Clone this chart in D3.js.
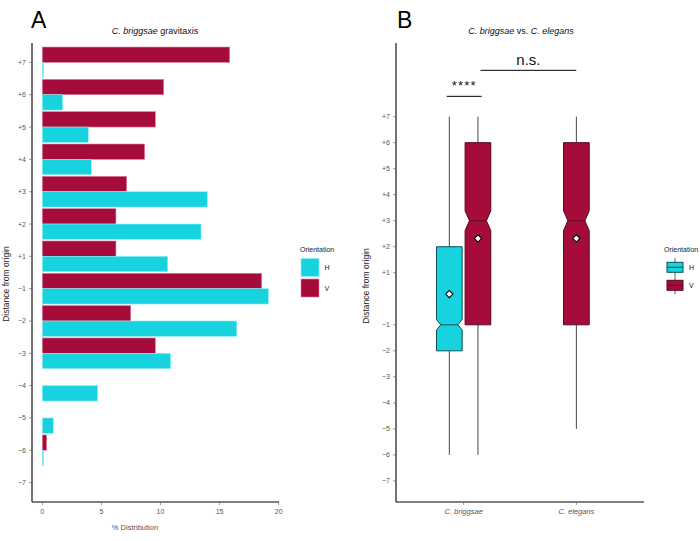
<!DOCTYPE html>
<html>
<head>
<meta charset="utf-8">
<script src="https://cdn.jsdelivr.net/npm/d3@7"></script>
<style>
  body { margin: 0; background: #fff; }
  svg { font-family: "Liberation Sans", Arial, sans-serif; }
</style>
</head>
<body>
<div id="chart"></div>
<script>
// Panel A data: % distribution by distance level
var levels = ["+7", "+6", "+5", "+4", "+3", "+2", "+1", "-1", "-2", "-3", "-4", "-5", "-6", "-7"];
var pctV = [15.85, 10.27, 9.56, 8.66, 7.14, 6.23, 6.23, 18.56, 7.48, 9.56, 0, 0, 0.37, 0];
var pctH = [0.1, 1.72, 3.89, 4.15, 13.96, 13.43, 10.61, 19.13, 16.45, 10.86, 4.68, 0.93, 0.1, 0];
var orientations = ["H", "V"];
var xTicksA = [0, 5, 10, 15, 20];

// Panel B data: box summaries
var species = ["C. briggsae", "C. elegans"];
var boxSpecies = ["C. briggsae", "C. briggsae", "C. elegans"];
var boxOrient = ["H", "V", "V"];
var boxDodge = [-1, 1, 0];
var whiskLow = [-6, -6, -5];
var q1 = [-2, -1, -1];
var medians = [-1, 3, 3];
var q3 = [2, 6, 6];
var whiskHigh = [7, 7, 7];
var notchLo = [-1.2, 2.62, 2.62];
var notchHi = [-0.8, 3.38, 3.38];
var means = [0.18, 2.32, 2.32];
var yTicksB = [-7, -6, -5, -4, -3, -2, -1, 1, 2, 3, 4, 5, 6, 7];
var sigLabels = ["****", "n.s."];
var sigFrom = [0.85, 1.15];
var sigTo = [1.16, 2.0];
var sigY = [7.78, 8.78];

var w = 700, h = 541;
var fill = { H: "#16d3df", V: "#a60c3a" };
var edge = { H: "#8ff0f4", V: "#e07d9b" };
var dark = { H: "#0e4e54", V: "#55091f" };
var tickCol = "#555";

var svg = d3.select("#chart").append("svg")
    .attr("width", w).attr("height", h);

function fmtSigned(v) { return v > 0 ? "+" + v : "\u2212" + Math.abs(v); }

// ---------- Panel A ----------
var ax = { left: 32, right: 279, top: 43, bottom: 502 };
var xA = d3.scaleLinear().domain([0, 20]).range([42.3, 278.7]);
var yA = d3.scalePoint().domain(levels).range([ax.top, ax.bottom]).padding(0.6);
var step = yA.step();
var barH = step * 0.475;

var gA = svg.append("g");

levels.forEach(function (lv, i) {
    var yc = yA(lv);
    [["V", pctV[i], yc - barH], ["H", pctH[i], yc]].forEach(function (b) {
        if (b[1] <= 0) return;
        gA.append("rect")
            .attr("x", xA(0))
            .attr("y", b[2])
            .attr("width", Math.max(0.8, xA(b[1]) - xA(0)))
            .attr("height", barH)
            .attr("fill", fill[b[0]])
            .attr("stroke", edge[b[0]])
            .attr("stroke-width", 0.6);
    });
});

// axes A
gA.append("line").attr("x1", ax.left).attr("x2", ax.left).attr("y1", ax.top).attr("y2", ax.bottom)
    .attr("stroke", "#000").attr("stroke-width", 1.1);
gA.append("line").attr("x1", ax.left).attr("x2", ax.right).attr("y1", ax.bottom).attr("y2", ax.bottom)
    .attr("stroke", "#000").attr("stroke-width", 1.1);

levels.forEach(function (lv) {
    gA.append("line").attr("x1", ax.left - 3).attr("x2", ax.left).attr("y1", yA(lv)).attr("y2", yA(lv))
        .attr("stroke", tickCol).attr("stroke-width", 0.6);
    gA.append("text").attr("x", ax.left - 6).attr("y", yA(lv) + 2.5)
        .attr("text-anchor", "end").attr("font-size", 7).attr("fill", tickCol)
        .text(lv.replace("-", "\u2212"));
});
xTicksA.forEach(function (t) {
    gA.append("line").attr("x1", xA(t)).attr("x2", xA(t)).attr("y1", ax.bottom).attr("y2", ax.bottom + 3)
        .attr("stroke", tickCol).attr("stroke-width", 0.6);
    gA.append("text").attr("x", xA(t)).attr("y", ax.bottom + 11.5)
        .attr("text-anchor", "middle").attr("font-size", 7).attr("fill", tickCol).text(t);
});

gA.append("text").attr("x", 135).attr("y", 530).attr("text-anchor", "middle")
    .attr("font-size", 7.5).attr("fill", tickCol).text("% Distribution");
gA.append("text").attr("transform", "translate(9,284) rotate(-90)").attr("text-anchor", "middle")
    .attr("font-size", 8.5).attr("fill", "#222").text("Distance from origin");

var tA = gA.append("text").attr("x", 155).attr("y", 34).attr("text-anchor", "middle")
    .attr("font-size", 9).attr("fill", "#111");
tA.append("tspan").attr("font-style", "italic").text("C. briggsae");
tA.append("tspan").text(" gravitaxis");

gA.append("text").attr("x", 31).attr("y", 28).attr("font-size", 23).attr("fill", "#000").text("A");

// legend A
var lgA = gA.append("g");
lgA.append("text").attr("x", 300).attr("y", 252).attr("font-size", 7).attr("fill", "#222").text("Orientation");
orientations.forEach(function (o, i) {
    var y0 = 258.5 + i * 20.5;
    lgA.append("rect").attr("x", 301).attr("y", y0).attr("width", 18).attr("height", 18)
        .attr("fill", fill[o]).attr("stroke", edge[o]).attr("stroke-width", 0.6);
    lgA.append("text").attr("x", 324.5).attr("y", y0 + 11.5).attr("font-size", 7).attr("fill", "#222").text(o);
});

// ---------- Panel B ----------
var bx = { left: 396, right: 644, top: 43, bottom: 502 };
var xB = d3.scaleLinear().domain([0.4, 2.6]).range([bx.left, bx.right]);
var yB = d3.scaleLinear().domain([-7.81, 9.83]).range([bx.bottom, bx.top]);
var dodge = 0.127, boxW = 0.228, notchW = 0.66;

var gB = svg.append("g");

boxSpecies.forEach(function (sp, i) {
    var cx = xB(species.indexOf(sp) + 1 + boxDodge[i] * dodge);
    var hw = (xB(boxW) - xB(0)) / 2;
    var nw = hw * notchW;
    var o = boxOrient[i];
    // whiskers
    gB.append("line").attr("x1", cx).attr("x2", cx).attr("y1", yB(q3[i])).attr("y2", yB(whiskHigh[i]))
        .attr("stroke", "#333").attr("stroke-width", 0.9);
    gB.append("line").attr("x1", cx).attr("x2", cx).attr("y1", yB(q1[i])).attr("y2", yB(whiskLow[i]))
        .attr("stroke", "#333").attr("stroke-width", 0.9);
    // notched box
    var pts = [
        [cx - hw, yB(q3[i])], [cx + hw, yB(q3[i])],
        [cx + hw, yB(notchHi[i])], [cx + nw, yB(medians[i])], [cx + hw, yB(notchLo[i])],
        [cx + hw, yB(q1[i])], [cx - hw, yB(q1[i])],
        [cx - hw, yB(notchLo[i])], [cx - nw, yB(medians[i])], [cx - hw, yB(notchHi[i])]
    ];
    gB.append("path").attr("d", d3.line()(pts) + "Z")
        .attr("fill", fill[o]).attr("stroke", dark[o]).attr("stroke-width", 1);
    gB.append("line").attr("x1", cx - nw).attr("x2", cx + nw).attr("y1", yB(medians[i])).attr("y2", yB(medians[i]))
        .attr("stroke", dark[o]).attr("stroke-width", 1);
    // mean marker
    gB.append("path").attr("d", d3.symbol(d3.symbolDiamond2, 34)())
        .attr("transform", "translate(" + cx + "," + yB(means[i]) + ")")
        .attr("fill", "#fff").attr("stroke", "#000").attr("stroke-width", 1.1);
});

// significance brackets
sigLabels.forEach(function (lab, i) {
    var x1 = xB(sigFrom[i]), x2 = xB(sigTo[i]), yy = yB(sigY[i]);
    gB.append("line").attr("x1", x1).attr("x2", x2).attr("y1", yy).attr("y2", yy)
        .attr("stroke", "#000").attr("stroke-width", 1);
    gB.append("text").attr("x", (x1 + x2) / 2).attr("y", yy - (i === 0 ? 6 : 5))
        .attr("text-anchor", "middle").attr("font-size", i === 0 ? 13 : 15)
        .attr("letter-spacing", i === 0 ? 1.2 : 0).attr("fill", "#111").text(lab);
});

// axes B
gB.append("line").attr("x1", bx.left).attr("x2", bx.left).attr("y1", bx.top).attr("y2", bx.bottom)
    .attr("stroke", "#000").attr("stroke-width", 1.1);
gB.append("line").attr("x1", bx.left).attr("x2", bx.right).attr("y1", bx.bottom).attr("y2", bx.bottom)
    .attr("stroke", "#000").attr("stroke-width", 1.1);

yTicksB.forEach(function (t) {
    gB.append("line").attr("x1", bx.left - 3).attr("x2", bx.left).attr("y1", yB(t)).attr("y2", yB(t))
        .attr("stroke", tickCol).attr("stroke-width", 0.6);
    gB.append("text").attr("x", bx.left - 6).attr("y", yB(t) + 2.5)
        .attr("text-anchor", "end").attr("font-size", 7).attr("fill", tickCol).text(fmtSigned(t));
});
species.forEach(function (sp, i) {
    var x = xB(i + 1);
    gB.append("line").attr("x1", x).attr("x2", x).attr("y1", bx.bottom).attr("y2", bx.bottom + 3)
        .attr("stroke", tickCol).attr("stroke-width", 0.6);
    gB.append("text").attr("x", x).attr("y", bx.bottom + 11.5).attr("text-anchor", "middle")
        .attr("font-size", 7.5).attr("font-style", "italic").attr("fill", tickCol).text(sp);
});

gB.append("text").attr("transform", "translate(369,286) rotate(-90)").attr("text-anchor", "middle")
    .attr("font-size", 8.5).attr("fill", "#222").text("Distance from origin");

var tB = gB.append("text").attr("x", 521).attr("y", 34).attr("text-anchor", "middle")
    .attr("font-size", 9).attr("fill", "#111");
tB.append("tspan").attr("font-style", "italic").text("C. briggsae");
tB.append("tspan").text(" vs. ");
tB.append("tspan").attr("font-style", "italic").text("C. elegans");

gB.append("text").attr("x", 397).attr("y", 28).attr("font-size", 23).attr("fill", "#000").text("B");

// legend B
var lgB = gB.append("g");
lgB.append("text").attr("x", 664).attr("y", 252).attr("font-size", 7).attr("fill", "#222").text("Orientation");
orientations.forEach(function (o, i) {
    var yc = 267.3 + i * 18;
    var cx = 675;
    lgB.append("line").attr("x1", cx).attr("x2", cx).attr("y1", yc - 9).attr("y2", yc + 9)
        .attr("stroke", "#333").attr("stroke-width", 0.8);
    lgB.append("rect").attr("x", cx - 8).attr("y", yc - 5).attr("width", 16).attr("height", 10)
        .attr("fill", fill[o]).attr("stroke", dark[o]).attr("stroke-width", 1);
    lgB.append("line").attr("x1", cx - 8).attr("x2", cx + 8).attr("y1", yc).attr("y2", yc)
        .attr("stroke", dark[o]).attr("stroke-width", 1);
    lgB.append("text").attr("x", 689).attr("y", yc + 2.5).attr("font-size", 7).attr("fill", "#222").text(o);
});
</script>
</body>
</html>
